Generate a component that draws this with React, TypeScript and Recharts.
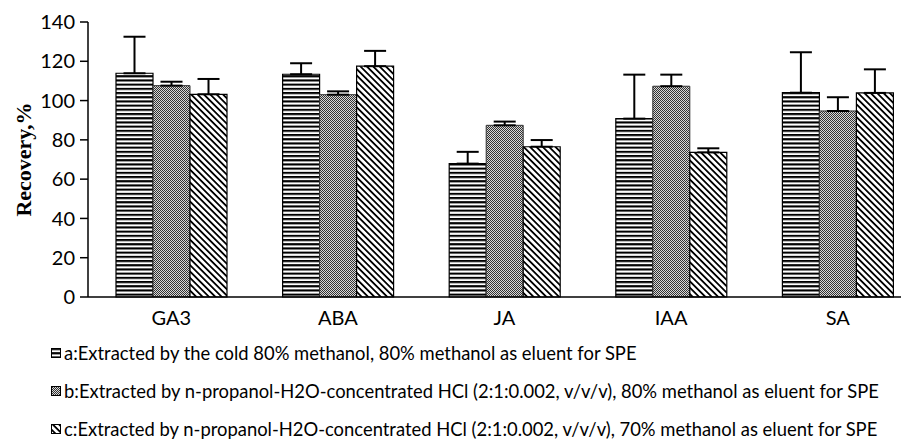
import React from "react";
import { BarChart, Bar, XAxis, YAxis, ErrorBar } from "recharts";

const hormones = ["GA3", "ABA", "JA", "IAA", "SA"];

// recovery (%) and upper error for each extraction method
const methodA = [113.9, 113.4, 67.9, 90.8, 104.0];
const methodAErr = [18.6, 5.6, 6.0, 22.4, 20.6];
const methodB = [107.6, 103.0, 87.4, 107.3, 94.7];
const methodBErr = [2.0, 1.7, 1.9, 5.9, 7.0];
const methodC = [103.2, 117.5, 76.5, 73.6, 103.9];
const methodCErr = [7.8, 7.8, 3.4, 2.1, 12.0];

const yTicks = [0, 20, 40, 60, 80, 100, 120, 140];

const legendLabels = [
  "a:Extracted by the cold 80% methanol, 80% methanol as eluent for SPE",
  "b:Extracted by n-propanol-H2O-concentrated HCl (2:1:0.002, v/v/v), 80% methanol as eluent for SPE",
  "c:Extracted by n-propanol-H2O-concentrated HCl (2:1:0.002, v/v/v), 70% methanol as eluent for SPE",
];

const data = hormones.map((name, i) => ({
  name,
  a: methodA[i],
  aErr: [0, methodAErr[i]],
  b: methodB[i],
  bErr: [0, methodBErr[i]],
  c: methodC[i],
  cErr: [0, methodCErr[i]],
}));

const sans = "Lato, 'Open Sans', sans-serif";

function Patterns({ prefix }: { prefix: string }) {
  return (
    <defs>
      <pattern id={prefix + "A"} patternUnits="userSpaceOnUse" width="4" height="4.2">
        <rect width="4" height="4.2" fill="#fff" />
        <rect width="4" height="2.1" fill="#000" />
      </pattern>
      <pattern id={prefix + "B"} patternUnits="userSpaceOnUse" width="2" height="2">
        <rect width="2" height="2" fill="#d8d8d8" />
        <rect width="1" height="1" fill="#333" />
        <rect x="1" y="1" width="1" height="1" fill="#333" />
      </pattern>
      <pattern
        id={prefix + "C"}
        patternUnits="userSpaceOnUse"
        width="4.5"
        height="4.5"
        patternTransform="rotate(-45)"
      >
        <rect width="4.5" height="4.5" fill="#fff" />
        <rect width="1.8" height="4.5" fill="#000" />
      </pattern>
    </defs>
  );
}

const errStyle = { width: 11, strokeWidth: 2, stroke: "#000" };

export default function App() {
  return (
    <div style={{ position: "relative", width: 901, height: 431, overflow: "hidden", background: "#fff" }}>
      <BarChart
        width={913}
        height={332}
        data={data}
        margin={{ top: 14, right: 0, left: 0, bottom: 0 }}
        barSize={37}
        barGap={0}
      >
        <Patterns prefix="pat" />
        <XAxis
          dataKey="name"
          height={43}
          tickLine={false}
          tickMargin={8}
          axisLine={{ stroke: "#000", strokeWidth: 1.5 }}
          tick={{ fill: "#000", fontSize: 20, fontFamily: sans }}
        />
        <YAxis
          width={80}
          domain={[0, 140]}
          ticks={yTicks}
          tickSize={8}
          tickMargin={5}
          axisLine={{ stroke: "#000", strokeWidth: 1.5 }}
          tickLine={{ stroke: "#000", strokeWidth: 1.5 }}
          tick={{ fill: "#000", fontSize: 20, fontFamily: sans }}
          label={{
            value: "Recovery,%",
            angle: -90,
            position: "insideLeft",
            offset: 15,
            style: {
              textAnchor: "middle",
              fontFamily: "'Liberation Serif', 'Times New Roman', serif",
              fontWeight: "bold",
              fontSize: 22,
              fill: "#000",
            },
          }}
        />
        <Bar dataKey="a" fill="url(#patA)" stroke="#000" strokeWidth={1.2} isAnimationActive={false}>
          <ErrorBar dataKey="aErr" direction="y" {...errStyle} />
        </Bar>
        <Bar dataKey="b" fill="url(#patB)" stroke="#333" strokeWidth={1} isAnimationActive={false}>
          <ErrorBar dataKey="bErr" direction="y" {...errStyle} />
        </Bar>
        <Bar dataKey="c" fill="url(#patC)" stroke="#000" strokeWidth={1.2} isAnimationActive={false}>
          <ErrorBar dataKey="cErr" direction="y" {...errStyle} />
        </Bar>
      </BarChart>
      {legendLabels.map((text, i) => (
        <div
          key={i}
          style={{
            position: "absolute",
            left: 43,
            top: 336 + i * 38,
            height: 18,
            lineHeight: "18px",
            display: "flex",
            alignItems: "center",
            whiteSpace: "nowrap",
            fontFamily: sans,
            fontSize: 18.4,
            color: "#000",
          }}
        >
          <svg width={10} height={10} style={{ marginRight: 3 }}>
            <Patterns prefix={"leg" + i} />
            <rect
              x={0.5}
              y={0.5}
              width={9}
              height={9}
              fill={`url(#leg${i}${["A", "B", "C"][i]})`}
              stroke="#000"
              strokeWidth={1}
            />
          </svg>
          <span>{text}</span>
        </div>
      ))}
    </div>
  );
}
